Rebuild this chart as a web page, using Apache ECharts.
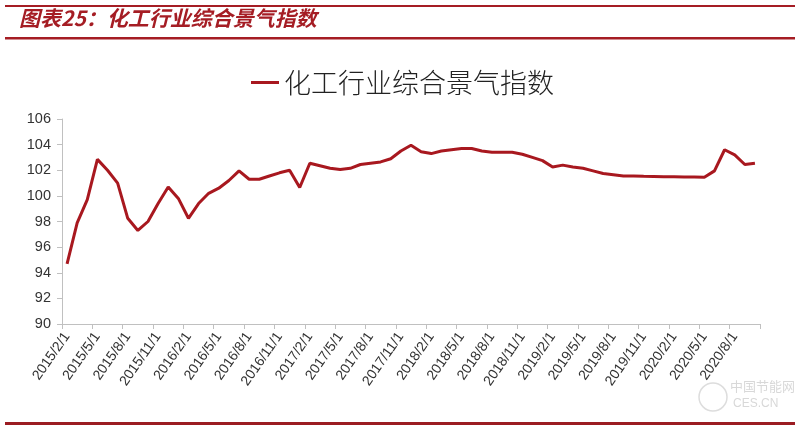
<!DOCTYPE html>
<html>
<head>
<meta charset="utf-8">
<script src="https://cdn.jsdelivr.net/npm/echarts@6/dist/echarts.min.js"></script>
<style>
html,body{margin:0;padding:0;background:#fff;}
#c{width:800px;height:428px;}
</style>
</head>
<body>
<div id="c"></div>
<script>
// Monthly categories 2015/2/1 .. 2020/10/1
const startYear = 2015, startMonth = 2, monthCount = 69;
const categories = [];
for (let i = 0; i < monthCount; i++) {
  const m0 = startMonth - 1 + i;
  categories.push((startYear + Math.floor(m0 / 12)) + '/' + (m0 % 12 + 1) + '/1');
}
const seriesName = '化工行业综合景气指数';
const values = [
  94.7, 97.9, 99.7, 102.85, 102.0, 101.0, 98.25, 97.3, 98.0, 99.4, 100.7, 99.8,
  98.25, 99.4, 100.2, 100.6, 101.2, 101.95, 101.3, 101.3, 101.55, 101.8, 102.0, 100.65,
  102.55, 102.35, 102.15, 102.05, 102.15, 102.45, 102.55, 102.65, 102.9, 103.5, 103.95, 103.45,
  103.3, 103.5, 103.6, 103.7, 103.7, 103.5, 103.4, 103.4, 103.4, 103.25, 103.0, 102.75,
  102.25, 102.4, 102.25, 102.15, 101.95, 101.75, 101.65, 101.55, 101.55, 101.53, 101.52, 101.5,
  101.5, 101.48, 101.47, 101.45, 101.95, 103.6, 103.2, 102.45, 102.55
];
const yTicks = { min: 90, max: 106, step: 2 };
const titleText = '图表25：化工行业综合景气指数';

const chart = echarts.init(document.getElementById('c'), null, { renderer: 'canvas' });
const red = '#a8181f';
chart.setOption({
  backgroundColor: '#fff',
  animation: false,
  graphic: [
    { type: 'rect', shape: { x: 5, y: 5, width: 790, height: 2 }, style: { fill: '#a51d24' } },
    { type: 'rect', shape: { x: 5, y: 37, width: 790, height: 2.5 }, style: { fill: '#a51d24' } },
    { type: 'rect', shape: { x: 5, y: 422, width: 790, height: 3 }, style: { fill: '#9b1c22' } },
    { type: 'text', left: 19, top: 8, style: { text: titleText, fill: '#a51d24',
      font: 'italic bold 21px "Noto Sans CJK SC", sans-serif' } },
    { type: 'circle', shape: { cx: 713, cy: 397, r: 14 }, style: { fill: 'none', stroke: '#dddddd', lineWidth: 1.5 } },
    { type: 'text', left: 730, top: 380, style: { text: '中国节能网', fill: '#d8d8d8',
      font: '13px "Noto Sans CJK SC", sans-serif' } },
    { type: 'text', left: 733, top: 398, style: { text: 'CES.CN', fill: '#d8d8d8',
      font: '12px "Liberation Sans", sans-serif' } }
  ],
  legend: {
    show: true,
    top: 64,
    left: 246,
    itemWidth: 28,
    itemHeight: 3,
    itemGap: 5,
    icon: 'rect',
    textStyle: { fontSize: 27, fontWeight: 300, color: '#222', fontFamily: '"Noto Sans CJK SC", sans-serif' },
    data: [{ name: seriesName, icon: 'rect' }]
  },
  grid: { left: 62, right: 40, top: 119, bottom: 104, containLabel: false },
  xAxis: {
    type: 'category',
    data: categories,
    boundaryGap: true,
    axisLine: { lineStyle: { color: '#c0c0c0', width: 1 } },
    axisTick: { show: true, interval: 2, length: 5, lineStyle: { color: '#c0c0c0' } },
    axisLabel: { interval: 2, rotate: 55, margin: 10, fontSize: 14, color: '#333',
      fontFamily: '"Liberation Sans", Arial, sans-serif' },
    splitLine: { show: false }
  },
  yAxis: {
    type: 'value',
    min: yTicks.min, max: yTicks.max, interval: yTicks.step,
    axisLine: { show: true, lineStyle: { color: '#c0c0c0', width: 1 } },
    axisTick: { show: true, length: 5, lineStyle: { color: '#c0c0c0' } },
    axisLabel: { margin: 11, fontSize: 14.5, color: '#333',
      fontFamily: '"Liberation Sans", Arial, sans-serif' },
    splitLine: { show: false }
  },
  series: [{
    name: seriesName,
    type: 'line',
    data: values,
    symbol: 'none',
    lineStyle: { color: red, width: 3 },
    itemStyle: { color: red }
  }]
});
</script>
</body>
</html>
